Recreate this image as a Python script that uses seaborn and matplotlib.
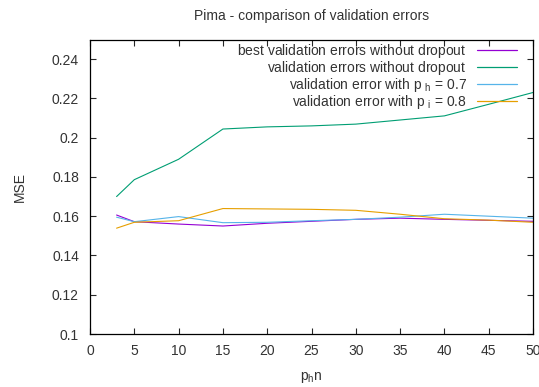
import matplotlib
matplotlib.use("Agg")
import matplotlib.pyplot as plt
import seaborn as sns
import pandas as pd

# ---- data ----
x_values = [3, 5, 10, 15, 20, 25, 30, 35, 40, 45, 50]
best_no_dropout = [0.1606, 0.1572, 0.1560, 0.1550, 0.1564, 0.1574, 0.1584, 0.1590, 0.1584, 0.1579, 0.1574]
val_no_dropout = [0.1700, 0.1786, 0.1890, 0.2044, 0.2055, 0.2060, 0.2069, 0.2090, 0.2111, 0.2170, 0.2230]
val_ph07 = [0.1595, 0.1572, 0.1598, 0.1567, 0.1569, 0.1577, 0.1584, 0.1595, 0.1610, 0.1600, 0.1590]
val_pi08 = [0.1539, 0.1569, 0.1577, 0.1639, 0.1637, 0.1635, 0.1630, 0.1610, 0.1587, 0.1580, 0.1569]

series_labels = [
    "best validation errors without dropout",
    "validation errors without dropout",
    "validation error with p $_\\mathrm{h}$ = 0.7",
    "validation error with p $_\\mathrm{i}$ = 0.8",
]
colors = ["#9400d3", "#009e73", "#56b4e9", "#e69f00"]
x_ticks = [0, 5, 10, 15, 20, 25, 30, 35, 40, 45, 50]
y_ticks = [0.1, 0.12, 0.14, 0.16, 0.18, 0.2, 0.22, 0.24]
y_ticklabels = ["0.1", "0.12", "0.14", "0.16", "0.18", "0.2", "0.22", "0.24"]

rows = []
for lab, vals in zip(series_labels, [best_no_dropout, val_no_dropout, val_ph07, val_pi08]):
    for xv, yv in zip(x_values, vals):
        rows.append({"x": xv, "mse": yv, "series": lab})
df = pd.DataFrame(rows)

sns.set_style("ticks")
plt.rcParams["font.family"] = ["Liberation Sans", "DejaVu Sans"]
plt.rcParams["mathtext.fontset"] = "custom"
plt.rcParams["mathtext.rm"] = "Liberation Sans"
plt.rcParams["mathtext.it"] = "Liberation Sans"
text_color = "#333333"
fs = 10

fig = plt.figure(figsize=(5.39, 3.87), dpi=100)
ax = fig.add_axes([90 / 539, 1 - 334 / 387, (533 - 90) / 539, (334 - 39.5) / 387])

sns.lineplot(data=df, x="x", y="mse", hue="series", palette=dict(zip(series_labels, colors)),
             hue_order=series_labels, linewidth=0.8, ax=ax, legend=True)

handles, labels = ax.get_legend_handles_labels()
ax.get_legend().remove()
# give every row the same height (rows without subscript get an empty one)
legend_labels = [l if "$" in l else l + r"$_{\ }$" for l in labels]
leg = ax.legend(handles, legend_labels, loc="upper right", markerfirst=False, frameon=False,
                fontsize=fs, handlelength=2.9, handletextpad=0.75, labelspacing=-0.06,
                borderaxespad=0.0, bbox_to_anchor=(0.977, 1.011))
for t in leg.get_texts():
    t.set_color(text_color)
for h in leg.get_lines():
    h.set_linewidth(0.9)

ax.set_xlim(0, 50)
ax.set_ylim(0.1, 0.25)
ax.set_xticks(x_ticks)
ax.set_yticks(y_ticks)
ax.set_yticklabels(y_ticklabels)
ax.tick_params(direction="in", length=4, width=0.8, top=True, right=True,
               labelsize=fs, labelcolor=text_color)
ax.tick_params(axis="x", pad=7)
ax.tick_params(axis="y", pad=8)
for sp in ax.spines.values():
    sp.set_linewidth(0.9)
    sp.set_color("black")
    sp.set_visible(True)

ax.set_xlabel("p$_\\mathrm{h}$n", fontsize=fs, color=text_color, labelpad=9)
ax.set_ylabel("MSE", fontsize=fs, color=text_color, labelpad=18)
ax.set_title("Pima - comparison of validation errors", fontsize=fs, color=text_color, pad=14)

fig.savefig("out.png", dpi=100)
